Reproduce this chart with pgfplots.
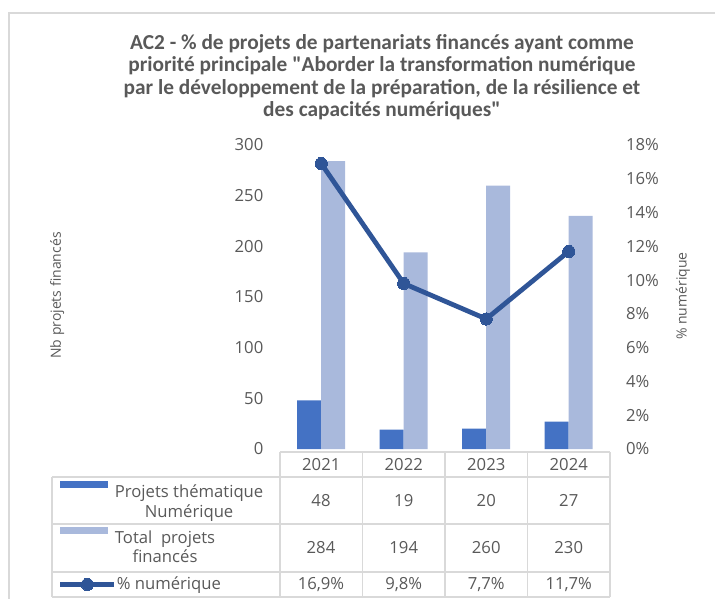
\documentclass[border=0pt]{standalone}
\usepackage{pgfplots}
\pgfplotsset{compat=1.18}
\usepackage{fontspec}
\setmainfont{Open Sans}
\newfontfamily\titlefont{Carlito}
\definecolor{darkbar}{HTML}{4472C4}
\definecolor{lightbar}{HTML}{A9B9DC}
\definecolor{linec}{HTML}{2F5597}
\definecolor{txt}{HTML}{595959}
\definecolor{gridc}{HTML}{D9D9D9}
\pgfplotsset{
  barlegend/.style={legend image code/.code={\draw[##1,draw=none] (0pt,6.6pt) rectangle (36pt,11.8pt);}},
  linelegend/.style={legend image code/.code={\draw[##1,mark repeat=2,mark phase=2] plot coordinates {(0pt,0pt)(20.3pt,0pt)(40.6pt,0pt)};}},
  common/.style={
    at={(210pt,-336.75pt)}, anchor=south west,
    scale only axis, width=247.5pt, height=228pt,
    xmin=-0.5, xmax=3.5,
    axis line style={draw=none}, major tick length=0pt, tick style={draw=none},
    tick label style={font=\fontsize{12.5}{15}\selectfont, text=txt},
    /pgf/number format/assume math mode=true,
    label style={font=\fontsize{10.5}{12}\selectfont, text=txt},
    legend style={draw=none, fill=none, inner sep=0pt, outer sep=0pt,
      nodes={inner sep=0pt, font=\fontsize{12.5}{14.6}\selectfont, text=txt},
      column sep=5.25pt},
    legend cell align=left,
  }
}
\begin{document}
\begin{tikzpicture}
\path[use as bounding box] (0,0) rectangle (536.25pt,-449.25pt);
\begin{scope}[x=0.75pt,y=-0.75pt]
  % frame
  \draw[gridc, line width=1.8pt] (9,600) -- (9,13) -- (716,13);
  % title
  \node[align=center, font=\titlefont\bfseries\fontsize{16}{16.9}\selectfont, text=txt] at (382,77)
   {AC2 - \% de projets de partenariats financés ayant comme\\
    priorité principale "Aborder la transformation numérique\\
    par le développement de la préparation, de la résilience et\\
    des capacités numériques"};
  % table grid
  \begin{scope}[gridc, line width=1.2pt]
    \draw (280,452) -- (610,452);
    \draw (52,477) -- (610,477);
    \draw (52,524) -- (610,524);
    \draw (52,572) -- (610,572);
    \draw (52,597) -- (610,597);
    \draw (52,477) -- (52,597);
    \foreach \xx in {280,362.5,445,527.5,610} \draw (\xx,452) -- (\xx,597);
  \end{scope}
  % table values
  \begin{scope}[every node/.style={font=\fontsize{12.5}{15}\selectfont, text=txt, anchor=center}]
    \node at (321,500.5) {48};   \node at (403.75,500.5) {19};  \node at (486.25,500.5) {20};  \node at (568.75,500.5) {27};
    \node at (321,548) {284};    \node at (403.75,548) {194};   \node at (486.25,548) {260};   \node at (568.75,548) {230};
    \node at (321,584.5) {16,9\%}; \node at (403.75,584.5) {9,8\%}; \node at (486.25,584.5) {7,7\%}; \node at (568.75,584.5) {11,7\%};
  \end{scope}
\end{scope}

\begin{axis}[common,
  ymin=0, ymax=300, ytick={0,50,...,300},
  xtick={0,1,2,3}, xticklabels={2021,2022,2023,2024},
  x tick label style={anchor=center, yshift=-12pt},
  yticklabel shift=9pt,
  axis x line*=bottom, axis y line*=left,
  ybar=0pt, bar width=18pt,
  ylabel={Nb projets financés},
  ylabel style={at={(axis description cs:-0.675,0.505)}, anchor=center},
  legend style={at={(axis description cs:-0.667,-0.105)}, anchor=north west, row sep=13pt},
]
\addplot[fill=darkbar, draw=none, barlegend] coordinates {(0,48) (1,19) (2,20) (3,27)};
\addlegendentry{\begin{tabular}{@{}c@{}}Projets thématique\\Numérique\end{tabular}}
\addplot[fill=lightbar, draw=none, barlegend] coordinates {(0,284) (1,194) (2,260) (3,230)};
\addlegendentry{\begin{tabular}{@{}c@{}}Total\ \ projets\\financés\end{tabular}}
\end{axis}

\begin{axis}[common,
  ymin=0, ymax=18, ytick={0,2,...,18},
  yticklabel={\pgfmathprintnumber{\tick}\%},
  yticklabel shift=8.5pt,
  axis x line=none, axis y line*=right,
  ylabel={\% numérique},
  ylabel style={at={(axis description cs:1.221,0.503)}, anchor=center, rotate=0},
  legend style={at={(axis description cs:-0.673,-0.4457)}, anchor=west, column sep=0pt},
]
\addplot[color=linec, line width=3.6pt, mark=*, mark size=4.6pt,
  mark options={fill=linec, draw=linec, line width=0pt}, linelegend]
  coordinates {(0,16.9) (1,9.8) (2,7.7) (3,11.7)};
\addlegendentry{\% numérique}
\end{axis}
\end{tikzpicture}
\end{document}
